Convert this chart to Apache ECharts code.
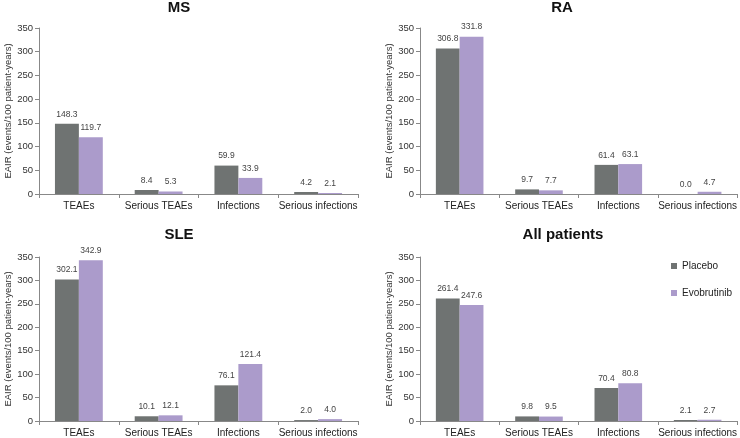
<!DOCTYPE html>
<html><head><meta charset="utf-8">
<script src="https://cdn.jsdelivr.net/npm/echarts@6/dist/echarts.min.js"></script>
<style>html,body{margin:0;padding:0;background:#fff}#c{width:740px;height:438px}</style>
</head><body><div id="c"></div>
<script>
const categories = ['TEAEs', 'Serious TEAEs', 'Infections', 'Serious infections'];
const panelTitles = ['MS', 'RA', 'SLE', 'All patients'];
const seriesNames = ['Placebo', 'Evobrutinib'];
const placeboMS = [148.3, 8.4, 59.9, 4.2];
const evoMS = [119.7, 5.3, 33.9, 2.1];
const placeboRA = [306.8, 9.7, 61.4, 0.0];
const evoRA = [331.8, 7.7, 63.1, 4.7];
const placeboSLE = [302.1, 10.1, 76.1, 2.0];
const evoSLE = [342.9, 12.1, 121.4, 4.0];
const placeboAll = [261.4, 9.8, 70.4, 2.1];
const evoAll = [247.6, 9.5, 80.8, 2.7];
const yTicks = [0, 50, 100, 150, 200, 250, 300, 350];
const yAxisName = 'EAIR (events/100 patient-years)';

const colors = ['#6f7372', '#ab9bcb'];
const font = '"Liberation Sans", Arial, sans-serif';
const grids = [
  {left: 39, right: 382, top: 28, bottom: 244},
  {left: 420, right: 2, top: 28, bottom: 244},
  {left: 39, right: 382, top: 257, bottom: 16},
  {left: 420, right: 2, top: 257, bottom: 16}
];
const titlePos = [[179, 0], [562, 0], [179, 227], [563, 227]];
const data = [[placeboMS, evoMS], [placeboRA, evoRA], [placeboSLE, evoSLE], [placeboAll, evoAll]];

const option = {
  animation: false,
  textStyle: {fontFamily: font},
  title: panelTitles.map((t, i) => ({
    text: t, left: titlePos[i][0], top: titlePos[i][1], textAlign: 'center', padding: 0,
    textStyle: {fontSize: 15, fontWeight: 'bold', color: '#111', fontFamily: font}
  })),
  legend: {
    data: seriesNames, orient: 'vertical', left: 671, top: 261, itemWidth: 6, itemHeight: 6,
    itemGap: 17, icon: 'rect', padding: 0, textStyle: {fontSize: 10, color: '#222', fontFamily: font}
  },
  grid: grids,
  xAxis: grids.map((g, i) => ({
    type: 'category', gridIndex: i, data: categories,
    axisLine: {lineStyle: {color: '#888'}},
    axisTick: {show: true, length: 4, lineStyle: {color: '#888'}},
    axisLabel: {fontSize: 10, color: '#222', margin: 7, interval: 0}
  })),
  yAxis: grids.map((g, i) => ({
    type: 'value', gridIndex: i, min: yTicks[0], max: yTicks[yTicks.length - 1], interval: yTicks[1] - yTicks[0],
    name: yAxisName, nameLocation: 'middle', nameGap: 25,
    nameTextStyle: {fontSize: 9.5, color: '#333'},
    axisLine: {show: true, lineStyle: {color: '#888'}},
    axisTick: {show: true, length: 4, lineStyle: {color: '#888'}},
    splitLine: {show: false},
    axisLabel: {fontSize: 9.5, color: '#333', margin: 6}
  })),
  series: []
};
data.forEach((pair, i) => {
  pair.forEach((vals, j) => {
    option.series.push({
      type: 'bar', name: seriesNames[j], xAxisIndex: i, yAxisIndex: i, data: vals,
      itemStyle: {color: colors[j]}, barCategoryGap: '40%', barGap: '0%',
      label: {show: true, position: 'top', distance: 5, fontSize: 8.5, color: '#444', formatter: p => p.value.toFixed(1)}
    });
  });
});
const chart = echarts.init(document.getElementById('c'), null, {renderer: 'canvas'});
chart.setOption(option);
</script></body></html>
